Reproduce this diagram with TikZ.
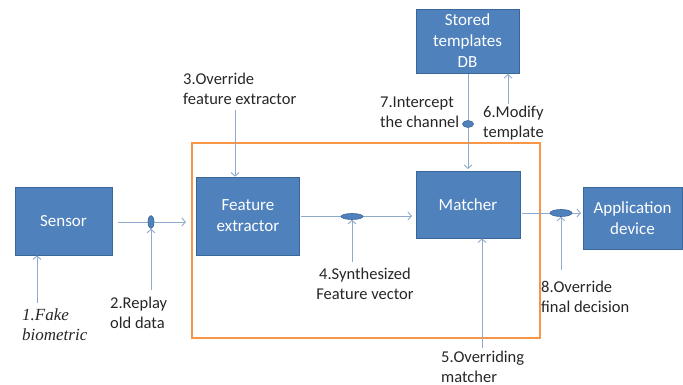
\documentclass[tikz,border=0pt]{standalone}
\usepackage{fontspec}
\setmainfont{Carlito}
\newfontfamily\timesfont{Liberation Serif}
\usetikzlibrary{arrows.meta,shapes.geometric}
\definecolor{boxblue}{HTML}{4F81BD}
\definecolor{boxedge}{HTML}{3A679A}
\definecolor{arrowc}{HTML}{8FAACB}
\definecolor{frameorange}{HTML}{F79646}
\tikzset{
  blk/.style={rectangle, fill=boxblue, draw=boxedge, line width=0.8pt, text=white,
    font=\fontsize{17}{21}\selectfont, align=center, inner sep=0pt},
  tap/.style={ellipse, fill=boxblue, draw=boxedge, line width=0.6pt, inner sep=0pt},
  conn/.style={draw=arrowc, line width=0.9pt, -{Straight Barb[length=3.5pt,width=8pt]}},
  lbl/.style={font=\fontsize{16.5}{20}\selectfont, align=left, inner sep=0pt, anchor=base west, text=black!85},
}
\begin{document}
\begin{tikzpicture}[x=1pt,y=-1pt]
\useasboundingbox (0,0) rectangle (683,385);
% orange frame
\draw[frameorange, line width=1.3pt] (192,143) rectangle (540,338);
% blocks
\node[blk, minimum width=97pt, minimum height=68pt] (sensor) at (63.5,221) {Sensor};
\node[blk, minimum width=103pt, minimum height=78pt] (fe) at (248,216) {Feature\\extractor};
\node[blk, minimum width=104pt, minimum height=67pt] (matcher) at (468,204.5) {Matcher};
\node[blk, minimum width=103pt, minimum height=64pt] (db) at (467.5,41) {Stored\\templates\\DB};
\node[blk, minimum width=99pt, minimum height=62pt] (app) at (632.5,218) {Application\\device};
% coordinates
\coordinate (sA) at (118,222);
\coordinate (sB) at (186,222);
\coordinate (fA) at (301,216);
\coordinate (fB) at (412,216);
\coordinate (mA) at (522,213);
\coordinate (mB) at (581,213);
\coordinate (dA) at (468,74);
\coordinate (dB) at (468,169);
\coordinate (u6a) at (508,104);
\coordinate (u6b) at (508,74);
% main connectors
\draw[conn] (sA) -- (sB);
\draw[conn] (fA) -- (fB);
\draw[conn] (mA) -- (mB);
\draw[conn] (dA) -- (dB);
\draw[conn] (u6a) -- (u6b);
% tap ellipses
\node[tap, minimum width=6pt, minimum height=13pt] (t2) at (151,222) {};
\node[tap, minimum width=22pt, minimum height=6pt] (t4) at (352,216.5) {};
\node[tap, minimum width=11pt, minimum height=7pt] (t7) at (468,124) {};
\node[tap, minimum width=22pt, minimum height=7pt] (t8) at (561,213) {};
% attack arrows
\coordinate (a1) at (37,303);
\coordinate (a2) at (151,290);
\coordinate (a3) at (235,110);
\coordinate (a4) at (352,262);
\coordinate (a5) at (482,348);
\coordinate (a8) at (561,270);
\draw[conn] (a1) -- (sensor.south -| a1);
\draw[conn] (a2) -- (t2.south);
\draw[conn] (a3) -- (fe.north -| a3);
\draw[conn] (a4) -- (t4.south);
\draw[conn] (a5) -- (matcher.south -| a5);
\draw[conn] (a8) -- (t8.south);
% labels (anchor = baseline of last line)
\node[lbl, font=\timesfont\itshape\fontsize{17}{20}\selectfont] (l1) at (22,340) {1.Fake\\biometric};
\node[lbl] (l2) at (110,328) {2.Replay\\old data};
\node[lbl] (l3) at (183,105) {3.Override\\feature extractor};
\node[lbl, align=center, anchor=base] (l4) at (365,299) {4.Synthesized\\Feature vector};
\node[lbl] (l5) at (441,382) {5.Overriding\\matcher};
\node[lbl] (l6) at (483,138) {6.Modify\\template};
\node[lbl] (l7) at (380,128) {7.Intercept\\the channel};
\node[lbl] (l8) at (541,312) {8.Override\\final decision};
\end{tikzpicture}
\end{document}
